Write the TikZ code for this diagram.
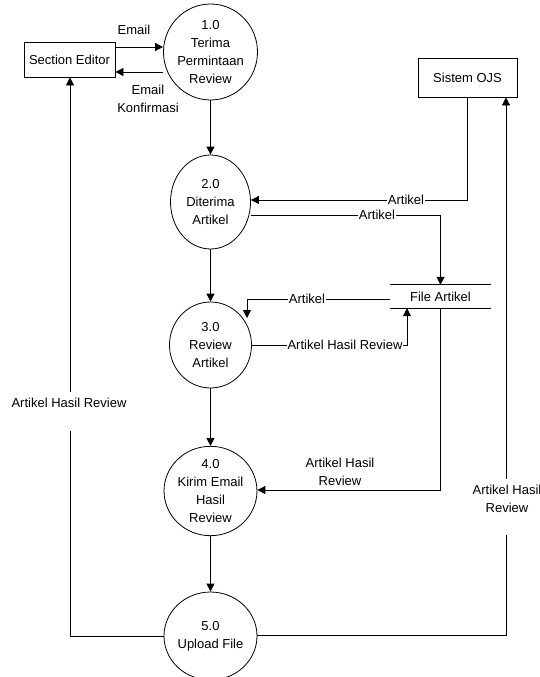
\documentclass[tikz,border=0pt]{standalone}
\usepackage{fontspec}
\setmainfont{Liberation Sans}
\usetikzlibrary{arrows.meta,shapes.geometric}
\begin{document}
\begin{tikzpicture}[x=1pt,y=-1pt,
  every node/.style={font=\fontsize{13}{18}\selectfont, inner sep=0pt},
  flow/.style={line width=0.8pt},
  arr/.style={flow,-{Triangle[length=8pt,width=8pt]}},
  entity/.style={draw,line width=0.8pt,rectangle,minimum width=91pt,minimum height=35pt},
  proc/.style={draw,line width=0.8pt,ellipse,align=center,minimum width=80pt,minimum height=92pt},
  lbl/.style={fill=white,inner sep=1pt,align=center},
  plainlbl/.style={align=center}]
\useasboundingbox (0,0) rectangle (540,677);
\node[entity] (se) at (69.5,59.5) {Section Editor};
\node[entity,minimum width=99pt,minimum height=39pt] (ojs) at (467.5,77.5) {Sistem OJS};
\node[proc,minimum height=96pt] (p1) at (210.5,52) {1.0\\Terima\\Permintaan\\Review};
\node[proc,minimum height=94pt] (p2) at (210.5,202) {2.0\\Diterima\\Artikel};
\node[proc,minimum width=82pt,minimum height=86pt] (p3) at (210.5,345) {3.0\\Review\\Artikel};
\node[proc,minimum width=82pt,minimum height=88pt] (p4) at (210.5,491) {4.0\\Kirim Email\\Hasil\\Review};
\node[proc,minimum width=82pt,minimum height=88pt] (p5) at (210.5,636) {5.0\\Upload File};
\node[minimum width=101pt,minimum height=23pt] (fa) at (440.5,296.5) {File Artikel};
\draw[flow] (fa.north west) -- (fa.north east);
\draw[flow] (fa.south west) -- (fa.south east);

% Section editor <-> 1.0
\draw[arr] (se.east |- 0,47) -- (p1.west |- 0,47);
\node[plainlbl] (l1) at (134,30) {Email};
\draw[arr] (p1.west |- 0,72) -- (se.east |- 0,72);
\node[plainlbl] (l2) at (148,99) {Email\\Konfirmasi};

% vertical process chain
\draw[arr] (p1) -- (p2);
\draw[arr] (p2) -- (p3);
\draw[arr] (p3) -- (p4);
\draw[arr] (p4) -- (p5);

% Sistem OJS -> 2.0
\draw[arr] (ojs.south) |- (p2.east |- 0,200);
\node[lbl] (l3) at (406,200) {Artikel};
% 2.0 -> File Artikel
\draw[arr] (p2.east |- 0,215) -| (fa.north);
\node[lbl] (l4) at (377,215) {Artikel};
% File Artikel -> 3.0
\coordinate (t3) at (247,318);
\draw[arr] (fa.west |- 0,299) -| (t3);
\node[lbl] (l5) at (307,299) {Artikel};
% 3.0 -> File Artikel
\coordinate (c3) at (407,345);
\draw[arr] (p3.east |- c3) -- (c3) -- (c3 |- fa.south);
\node[lbl] (l6) at (345,345) {Artikel Hasil Review};
% File Artikel -> 4.0
\draw[arr] (fa.south) |- (p4.east |- 0,490);
\node[plainlbl] (l7) at (340,472) {Artikel Hasil\\Review};
% 5.0 -> Sistem OJS
\coordinate (g1) at (506,535);
\coordinate (g2) at (506,479);
\draw[flow] (p5.east |- 0,635) -| (g1);
\draw[arr] (g2) -- (ojs.south -| g2);
\node[plainlbl] (l8) at (507,499) {Artikel Hasil\\Review};
% 5.0 -> Section Editor
\coordinate (g3) at (70,431);
\coordinate (g4) at (70,392);
\draw[flow] (p5.west |- 0,636) -| (g3);
\draw[arr] (g4) -- (se.south -| g4);
\node[plainlbl] (l9) at (69,403) {Artikel Hasil Review};
\end{tikzpicture}
\end{document}
